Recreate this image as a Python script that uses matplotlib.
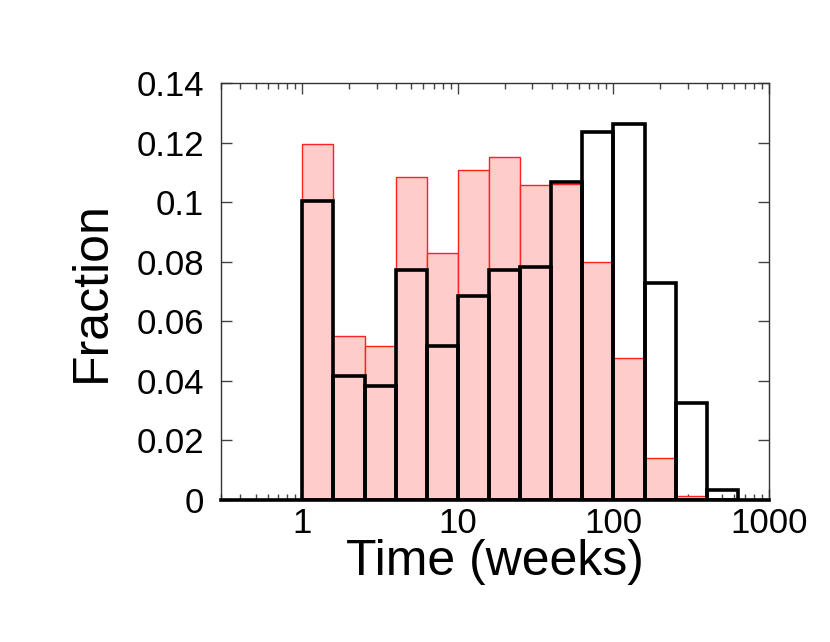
import numpy as np
import matplotlib
matplotlib.use('Agg')
import matplotlib.pyplot as plt
from matplotlib.ticker import LogLocator, NullFormatter

# log-spaced bins, factor 10^0.2, starting at 1 week
bin_exp = [0.0, 0.2, 0.4, 0.6, 0.8, 1.0, 1.2, 1.4, 1.6, 1.8, 2.0, 2.2, 2.4, 2.6, 2.8]
red_frac = [0.1195, 0.0551, 0.0516, 0.1085, 0.0829, 0.1107, 0.1150, 0.1057,
            0.1062, 0.0800, 0.0476, 0.0140, 0.0013, 0.0]
black_frac = [0.1004, 0.0417, 0.0383, 0.0773, 0.0516, 0.0684, 0.0771, 0.0782,
              0.1066, 0.1236, 0.1264, 0.0730, 0.0327, 0.0035]
yticks = [0, 0.02, 0.04, 0.06, 0.08, 0.1, 0.12, 0.14]
ytick_labels = ['0', '0.02', '0.04', '0.06', '0.08', '0.1', '0.12', '0.14']
xticks = [1, 10, 100, 1000]
xtick_labels = ['1', '10', '100', '1000']

plt.rcParams['font.family'] = ['Liberation Sans', 'DejaVu Sans']

edges = 10 ** np.array(bin_exp)
left = edges[:-1]
width = np.diff(edges)

fig = plt.figure(figsize=(8.3, 6.42), dpi=100)
ax = fig.add_axes([0.2663, 0.2212, 0.6602, 0.6495])

ax.bar(left, red_frac, width=width, align='edge', color='#ffcccc',
       edgecolor='#ff2020', linewidth=1.0, zorder=2)
ax.bar(left, black_frac, width=width, align='edge', fill=False,
       edgecolor='black', linewidth=2.6, zorder=3)

ax.set_xscale('log')
ax.set_xlim(0.3, 1000)
ax.set_ylim(0, 0.14)
ax.set_xticks(xticks)
ax.set_xticklabels(xtick_labels)
ax.xaxis.set_minor_locator(LogLocator(base=10, subs=np.arange(2, 10)))
ax.xaxis.set_minor_formatter(NullFormatter())
ax.set_yticks(yticks)
ax.set_yticklabels(ytick_labels)

ax.tick_params(which='both', direction='in', top=True, right=True,
               labelsize=25, color='#444444', width=1.0)
ax.tick_params(which='major', length=8)
ax.tick_params(axis='y', which='major', pad=12)
ax.tick_params(axis='x', which='major', pad=5)
ax.tick_params(which='minor', length=4)
for s in ax.spines.values():
    s.set_linewidth(1.0)
    s.set_color('#333333')
ax.spines['bottom'].set_linewidth(2.6)
ax.spines['bottom'].set_color('black')
ax.spines['bottom'].set_zorder(4)

ax.set_xlabel('Time (weeks)', fontsize=36, labelpad=-1)
ax.set_ylabel('Fraction', fontsize=36, labelpad=16)

fig.savefig('out.png', dpi=100)
